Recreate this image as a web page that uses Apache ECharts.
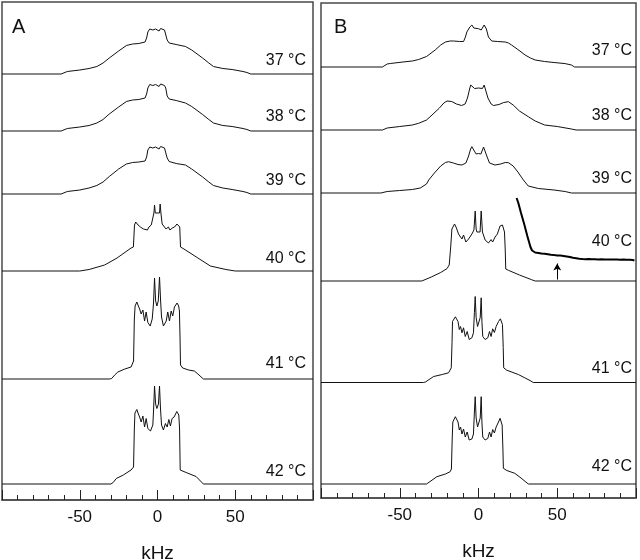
<!DOCTYPE html>
<html><head><meta charset="utf-8">
<script src="https://cdn.jsdelivr.net/npm/echarts@6/dist/echarts.min.js"></script>
<style>html,body{margin:0;padding:0;background:#fff}#c{width:640px;height:560px}</style>
</head><body><div id="c"></div>
<script>
// Temperature labels for each stacked spectrum (top to bottom)
const tempLabels = ['37 °C', '38 °C', '39 °C', '40 °C', '41 °C', '42 °C'];
// x-axis tick labels shown
const tickLabels = [-50, 0, 50];
// vertical stacking offsets (intensity units) of each spectrum
const offsetsA = [426, 369, 306, 229, 121, 16];
const offsetsB = [431, 368, 305, 217, 115.5, 14];

// Panel A spectra: [kHz, intensity]
const specA37 = [[-100,0],[-62,0],[-58,2.5],[-50,4],[-44,5.5],[-39,7.5],[-35,11],[-31,16],[-25,23],[-20,28.5],[-16,30],[-12,30.5],[-8,32],[-7,36],[-6.2,42],[-5,45],[-4,46],[-3,44],[-2.3,43.5],[-1.2,45],[0,44],[1,43],[2,45.5],[3,46],[4.5,44],[5.3,42],[6.2,34],[7.5,31],[12,29.5],[18,27.5],[22,24],[29,16],[33,11],[36,7.5],[42,5.5],[48,4.5],[55,2.5],[57.5,1.5],[60,0],[100,0]];
const specA38 = [[-100,0],[-62,0],[-58,2.5],[-50,4],[-44,5.5],[-39,8],[-35,11.5],[-31,17],[-25,24],[-20,29.5],[-16,31],[-12,31.5],[-8,33],[-7,37],[-6.2,43],[-5,46.5],[-4,47.5],[-3,45.5],[-2.3,45],[-1.2,46.5],[0,45.5],[1,44.5],[2,47],[3,47.5],[4.5,45.5],[5.3,43],[6.2,35],[7.5,32],[12,30.5],[18,28],[22,24.5],[29,16.5],[33,11.5],[36,8],[42,5.5],[48,4.5],[55,2.5],[57.5,1.5],[60,0],[100,0]];
const specA39 = [[-100,0],[-62,0],[-58,2.5],[-50,4],[-44,6],[-39,8.5],[-35,12],[-31,17.5],[-25,25],[-20,30],[-16,31.5],[-12,32],[-8,33],[-7,37],[-6.2,44],[-5,47],[-4,48],[-3,46],[-2.3,45.5],[-1.2,47],[0,46],[1,45],[2,47.5],[3,48],[4.5,46],[5.3,44],[6.2,36],[7.5,32.5],[12,30.5],[18,29],[22,25],[29,17],[33,12],[36,8.5],[42,6],[48,4.5],[55,2.5],[57.5,1.5],[60,0],[100,0]];
const specA40 = [[-100,0],[-50,0],[-44,1.5],[-34,6],[-26,13],[-17,23],[-15.5,24],[-14.8,46],[-14,49],[-12.5,46],[-11,44],[-10,45],[-9,42],[-8,43],[-6.5,41],[-5.5,44],[-4,46],[-3,47],[-2.3,58],[-1.9,66],[-1.4,58],[-0.2,56],[0.2,56],[1.3,58],[1.7,67],[2.2,58],[3,47],[4,45],[5.5,42],[7,44],[8,41],[9.5,43],[11,44],[12.5,47],[13.3,48.5],[14.3,44],[14.8,24],[17,22],[26,13],[34,5],[44,1.5],[50,0],[100,0]];
const specA41 = [[-100,0],[-31,0],[-29.5,0.5],[-27.5,4],[-25.5,7],[-21,10],[-17,12],[-15.4,18],[-14.9,60],[-14.4,73],[-13.3,77],[-12.3,73],[-11.5,70],[-10.5,65],[-9.4,69],[-8.3,58],[-7.3,67],[-6.2,56.5],[-4.7,53],[-3.4,60],[-2.6,75],[-1.9,101],[-1.2,78],[-0.4,73],[0.5,78],[1.3,102],[2,78],[2.6,62],[3.8,53],[5.6,58],[6.6,67],[7.7,58],[8.8,68],[9.8,63],[10.9,72],[12.6,76],[13.6,73],[14.1,68],[14.5,40],[14.8,14],[16.2,11],[20,9],[23.7,8],[26,5],[29.5,0],[100,0]];
const specA42 = [[-100,0],[-30,0],[-28.5,1.5],[-26.5,5.5],[-22,9],[-17,14],[-15.4,17],[-14.9,55],[-14.5,71],[-13.3,74.5],[-12.3,70],[-11.5,67],[-10.5,62],[-9.4,68],[-8.3,57],[-7.3,65.5],[-6.2,55.5],[-4.5,53],[-3,59],[-2.5,75],[-1.9,98],[-1.2,80],[-0.4,75.5],[0.6,80],[1.3,98],[1.9,76],[2.6,59],[3.8,54],[5.1,60.5],[6.2,57],[7.3,64.5],[8.3,58],[9.4,65.5],[10.7,67],[12.4,72.5],[13.7,69],[14.2,55],[14.6,14],[18.4,11.5],[24.8,7.5],[27,4],[29.5,0],[100,0]];

// Panel B spectra: [kHz, intensity]
const specB37 = [[-100,0],[-61,0],[-58,3],[-56,3.5],[-48,5],[-42,6],[-38,7.5],[-33,10.5],[-27.5,17],[-24,22],[-21,25],[-18,26],[-15.8,26],[-12,25.5],[-9.5,25.5],[-8.3,30],[-7.4,35],[-5.5,40],[-4.2,42],[-3,39],[-2.1,37],[0,38.3],[1.7,37],[2.8,39],[3.6,42],[5,38],[6.3,30],[8.4,26],[12,25.5],[17,25],[19,24],[21,22],[25,17.5],[29.6,12],[33,9],[36,7],[42,5.5],[48,4.5],[55,3.4],[59,2],[61,0],[100,0]];
const specB38 = [[-100,0],[-61,0],[-58,2],[-50,3.5],[-42,5],[-38,6.7],[-33,10],[-29.5,15],[-25,21.7],[-22,27],[-20,29],[-17,28.5],[-14,26],[-10.7,24.5],[-8.5,26],[-7,32],[-5.5,42],[-4.9,45],[-4,43],[-2.5,41.5],[0,42],[2.5,41.5],[3.6,45],[4.5,43],[6,32],[8,26],[9.5,24.5],[13,25.5],[16,27.5],[19,28.3],[22,25],[26,19],[31.6,13.3],[36,9],[42,5],[50,3.5],[59,1],[62,0],[100,0]];
const specB39 = [[-100,0],[-62,0],[-58,1.5],[-50,2.5],[-42,3.5],[-37,5],[-33,9],[-31.6,13],[-28,20],[-24,27],[-21,30.5],[-19,31.3],[-16,30],[-13,28.5],[-10.5,28],[-8,30],[-6.5,36],[-5,44],[-4.2,46.3],[-3,43],[-1.5,39],[0,39.5],[1.5,39],[2.5,43],[3.2,46],[4,44],[5.5,36],[7,30],[10.5,28],[14,29],[17,30.5],[19,30.3],[22,27],[25,21],[28.5,13],[31.6,7],[38,4.5],[48,3],[55,1.5],[59,0],[100,0]];
const specB40 = [[-100,0],[-36,0],[-30,4],[-24,8.5],[-20,12.4],[-18.6,16],[-17.6,35],[-16.9,52],[-15.2,57],[-14,53],[-12.7,47],[-11.6,49],[-10.5,42],[-9.5,46],[-8,39],[-6.3,42],[-4.2,47],[-2.9,51],[-2.1,70],[-1.5,52],[-1,49],[0,49],[1,49],[1.7,70],[2.5,49],[4.2,41],[6.3,38],[8,41.4],[9,39],[10.5,44],[12,47],[13.7,55],[15.2,56],[16.5,49],[17,30],[17.3,12],[19,10.7],[26,6],[33.7,1.3],[36,0],[100,0]];
// magnified tail of the 40 °C spectrum (inset)
const specB40Inset = [[24.2,83],[25.3,78],[27,68],[29,57],[31,45],[33,34],[34,30.5],[35,29.2],[36,28.5],[37,27.2],[38,28.1],[39,26.8],[40,27.6],[41,26.4],[42,27.2],[43,25.9],[44,26.8],[45,25.4],[46,26.3],[47,24.9],[48,25.9],[49,24.6],[50,25.6],[51,24.3],[52,25.4],[53,24.1],[54,25.1],[55,23.7],[56,24.6],[57,23.1],[58,23.9],[59,22.4],[60,23.2],[61,21.8],[62,22.7],[63,21.3],[64,22.2],[65,20.7],[66,21.9],[67,20.6],[68,21.8],[69,20.5],[70,21.9],[71,20.4],[72,21.7],[73,20.6],[74,21.8],[75,20.3],[76,21.6],[77,20.5],[78,21.7],[79,20.2],[80,21.5],[81,20.4],[82,21.6],[83,20.2],[84,21.4],[85,20.3],[86,21.5],[87,20.1],[88,21.4],[89,20.2],[90,21.3],[91,20.1],[92,21.4],[93,20.0],[94,21.2],[95,20.1],[96,21.2],[97,20.0],[98,21.0],[99,20.3]];
const arrowB40 = [50, 1.5, 17.5]; // kHz, start, end intensity
const specB41 = [[-100,0],[-35,0],[-33.7,0.5],[-28.5,6],[-23,8],[-19,9.7],[-17.3,14.7],[-16.8,40],[-16.5,61],[-14.7,65.7],[-13,61],[-12.2,53],[-11.4,56],[-10.5,49.7],[-9.5,54.7],[-8.4,46],[-7.2,51],[-5.9,43],[-4.2,44.7],[-3.2,49.7],[-2.6,70],[-2.1,86],[-1.5,65],[-0.6,56],[0.4,56],[1.1,65],[1.7,84.7],[2.2,60],[2.7,46],[4.2,43],[5.9,44.7],[7,51],[8,46],[9,53.7],[10.1,50],[11.2,56],[12.7,61],[13.9,63.7],[15.2,58],[15.7,35],[16,14.7],[17.9,12.3],[25.3,8],[29,5],[32.7,2],[34.8,0],[100,0]];
const specB42 = [[-100,0],[-33,0],[-32,0.5],[-26.4,7.3],[-21,10],[-18,12.3],[-17.2,15],[-16.7,45],[-16.3,62],[-14.7,67.3],[-13,62],[-12.2,54],[-11.4,57],[-10.5,50],[-9.5,55],[-8.4,47],[-7.2,52],[-5.9,44],[-4.2,45],[-3.2,50],[-2.6,72],[-2.1,87.3],[-1.5,66],[-0.6,57],[0.4,57],[1.1,66],[1.7,87.3],[2.2,61],[2.7,47],[4.2,44],[5.9,45.5],[7,52],[8,47],[9,54.5],[10.1,51],[11.2,57],[12.7,62],[13.7,65.7],[15,59],[15.5,35],[15.8,15.7],[18,13.5],[23,10.7],[27,6],[31.6,0],[100,0]];

const specsA = [specA37, specA38, specA39, specA40, specA41, specA42];
const specsB = [specB37, specB38, specB39, specB40, specB41, specB42];

const FONT = 'Liberation Sans, Arial, sans-serif';
const LINE = '#111';
const FRAME = '#4a4a4a';

function shift(data, off) { return data.map(p => [p[0], p[1] + off]); }

function xAxisFor(gi) {
  return {
    gridIndex: gi, type: 'value', min: -100, max: 100, interval: 50,
    name: 'kHz', nameLocation: 'middle', nameGap: 44,
    nameTextStyle: { fontFamily: FONT, fontSize: 19, color: '#111' },
    axisLine: { show: true, lineStyle: { color: FRAME, width: 1.5 } },
    axisTick: { show: true, inside: true, length: 10, lineStyle: { color: '#222', width: 1 } },
    minorTick: { show: true, splitNumber: 5, length: 5, lineStyle: { color: '#222', width: 1 } },
    axisLabel: { fontFamily: FONT, fontSize: 17, color: '#111', margin: 9, showMinLabel: false, showMaxLabel: false,
      formatter: v => tickLabels.indexOf(v) >= 0 ? String(v) : '' },
    splitLine: { show: false }
  };
}
function yAxisFor(gi, max) {
  return { gridIndex: gi, type: 'value', min: 0, max: max, show: false, splitLine: { show: false } };
}

const series = [];
specsA.forEach((s, i) => series.push({ type: 'line', xAxisIndex: 0, yAxisIndex: 0, data: shift(s, offsetsA[i]), symbol: 'none', lineStyle: { color: LINE, width: 1 }, silent: true }));
specsB.forEach((s, i) => series.push({ type: 'line', xAxisIndex: 1, yAxisIndex: 1, data: shift(s, offsetsB[i]), symbol: 'none', lineStyle: { color: LINE, width: 1 }, silent: true }));
series.push({ type: 'line', xAxisIndex: 1, yAxisIndex: 1, data: shift(specB40Inset, offsetsB[3]), symbol: 'none', lineStyle: { color: '#000', width: 2 }, silent: true,
  markLine: { silent: true, symbol: ['none', 'arrow'], symbolSize: [6, 7], label: { show: false },
    lineStyle: { color: '#000', width: 1, type: 'solid' },
    data: [[{ coord: [arrowB40[0], offsetsB[3] + arrowB40[1]] }, { coord: [arrowB40[0], offsetsB[3] + arrowB40[2]] }]] } });

const labelYA = [62, 118, 182, 260, 365, 473];
const labelYB = [52, 117, 180, 243, 370, 468];
const graphic = [];
tempLabels.forEach((t, i) => {
  graphic.push({ type: 'text', right: 334, top: labelYA[i] - 9, style: { text: t, font: '16px ' + FONT, fill: '#111' } });
  graphic.push({ type: 'text', right: 8, top: labelYB[i] - 9, style: { text: t, font: '16px ' + FONT, fill: '#111' } });
});
graphic.push({ type: 'text', left: 12, top: 17, style: { text: 'A', font: '20px ' + FONT, fill: '#111' } });
graphic.push({ type: 'text', left: 334, top: 17, style: { text: 'B', font: '20px ' + FONT, fill: '#111' } });

const chart = echarts.init(document.getElementById('c'), null, { renderer: 'canvas' });
chart.setOption({
  animation: false,
  backgroundColor: '#fff',
  grid: [
    { left: 2, right: 327, top: 2, bottom: 60, show: true, borderColor: FRAME, borderWidth: 1.5, containLabel: false, outerBoundsMode: 'none' },
    { left: 321, right: 4, top: 3, bottom: 62, show: true, borderColor: FRAME, borderWidth: 1.5, containLabel: false, outerBoundsMode: 'none' }
  ],
  xAxis: [xAxisFor(0), xAxisFor(1)],
  yAxis: [yAxisFor(0, 498), yAxisFor(1, 495)],
  series: series,
  graphic: graphic
});
</script></body></html>
